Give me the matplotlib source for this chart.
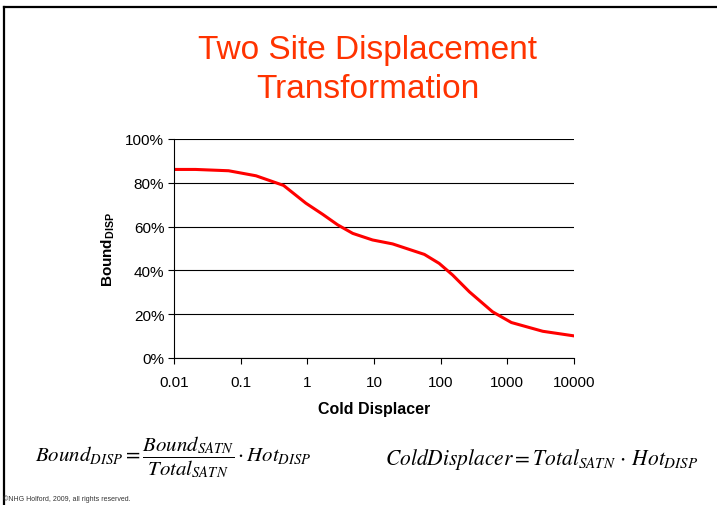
import numpy as np
import matplotlib
matplotlib.use("Agg")
import matplotlib.pyplot as plt
from matplotlib.lines import Line2D
from matplotlib.ticker import FixedLocator

plt.rcParams['font.family'] = ['Liberation Sans', 'DejaVu Sans']
plt.rcParams['mathtext.fontset'] = 'custom'
plt.rcParams['mathtext.rm'] = 'Liberation Sans'
plt.rcParams['mathtext.bf'] = 'Liberation Sans:bold'
plt.rcParams['mathtext.it'] = 'Liberation Sans:italic'

# curve
cold_displacer = [0.01, 0.021, 0.066, 0.17, 0.44, 0.95, 1.7, 2.85, 4.8, 9.5,
                  19, 57, 95, 151, 270, 600, 1150, 3400, 10000]
bound_disp = [86.1, 86.1, 85.5, 83.2, 78.8, 70.7, 65.6, 60.8, 56.9, 53.9,
              52.1, 47.3, 43.2, 37.9, 30.2, 21.1, 16.2, 12.2, 10.1]

x_ticks = [0.01, 0.1, 1, 10, 100, 1000, 10000]
x_tick_labels = ['0.01', '0.1', '1', '10', '100', '1000', '10000']
y_ticks = [0, 20, 40, 60, 80, 100]

fig = plt.figure(figsize=(7.17, 5.06), dpi=100)
ax = fig.add_axes([174 / 717, 1 - 359 / 506, 400 / 717, 219 / 506])

ax.plot(cold_displacer, bound_disp, color='#ff0000', lw=2.2, solid_joinstyle='round')
ax.set_xscale('log')
ax.set_xlim(0.01, 10000)
ax.set_ylim(0, 100)
ax.xaxis.set_major_locator(FixedLocator(x_ticks))
ax.xaxis.set_minor_locator(FixedLocator([]))
ax.set_xticks(x_ticks, x_tick_labels)
ax.set_yticks(y_ticks, [f'{v}%' for v in y_ticks])
ax.tick_params(axis='both', direction='out', length=4, width=0.8, labelsize=11,
               color='black', labelcolor='black')
ax.tick_params(axis='x', pad=8)
ax.tick_params(axis='y', pad=3)
ax.grid(axis='y', color='black', lw=0.8)
ax.set_axisbelow(True)
for side in ['top', 'right']:
    ax.spines[side].set_visible(False)
for side in ['left', 'bottom']:
    ax.spines[side].set_color('black')
    ax.spines[side].set_linewidth(0.8)

ax.set_xlabel('Cold Displacer', fontsize=11.5, fontweight='bold', labelpad=9)
ax.set_ylabel(r'$\mathbf{Bound}_{\mathbf{DISP}}$', fontsize=11, labelpad=6)

fig.text(368 / 717, 1 - 50 / 506, 'Two Site Displacement', ha='center', va='center',
         fontsize=24, color='#ff3300')
fig.text(368 / 717, 1 - 89 / 506, 'Transformation', ha='center', va='center',
         fontsize=24, color='#ff3300')

eq1 = r'$Bound_{DISP} = \dfrac{Bound_{SATN}}{Total_{SATN}} \cdot Hot_{DISP}$'
eq2 = r'$ColdDisplacer = Total_{SATN} \,\cdot\, Hot_{DISP}$'
fig.text(35 / 717, 1 - 457 / 506, eq1, ha='left', va='center', fontsize=15,
         math_fontfamily='stix')
fig.text(385 / 717, 1 - 460 / 506, eq2, ha='left', va='center', fontsize=15.5,
         math_fontfamily='stix')

fig.text(3 / 717, 1 - 499 / 506, '\u00a9NHG Holford, 2009, all rights reserved.',
         ha='left', va='center', fontsize=5, color='#333333')

# slide border
fig.add_artist(Line2D([4 / 717, 4 / 717], [0, 1 - 8 / 506], transform=fig.transFigure,
                      color='black', lw=1.6))
fig.add_artist(Line2D([4 / 717, 1], [1 - 8 / 506, 1 - 8 / 506], transform=fig.transFigure,
                      color='black', lw=1.6))

fig.savefig('out.png', dpi=100)
